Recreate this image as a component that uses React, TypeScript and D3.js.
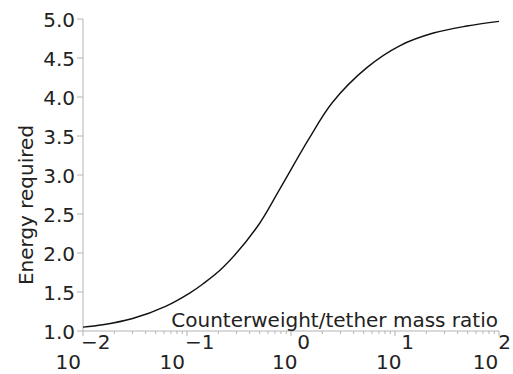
import React from 'react';
import * as d3 from 'd3';

// counterweight/tether mass ratio
const ratios = [0.01, 0.0155, 0.03, 0.063, 0.107, 0.141, 0.22, 0.47, 0.78, 1.48, 2.5, 5.4, 11.2, 23.4, 49, 100];
// energy required at each ratio
const energy = [1.05, 1.08, 1.16, 1.32, 1.49, 1.6, 1.81, 2.33, 2.82, 3.46, 3.93, 4.38, 4.66, 4.82, 4.91, 4.97];

const yTicks = [1.0, 1.5, 2.0, 2.5, 3.0, 3.5, 4.0, 4.5, 5.0];
const xExponents = [-2, -1, 0, 1, 2];

const width = 513;
const height = 374;
const axisColor = '#b4b4b4';
const textColor = '#222';
const font = 'DejaVu Sans, sans-serif';
const fontSize = 20;

const App = () => {
    const x = d3.scaleLog().domain([0.01, 100]).range([83, 499]);
    const y = d3.scaleLinear().domain([1, 5]).range([331, 19]);

    const line = d3.line<number>()
        .x((_, i) => x(ratios[i]))
        .y((d) => y(d))
        .curve(d3.curveCatmullRom.alpha(0.5));

    // minor ticks at 2..9 of every decade
    const minor: number[] = [];
    for (let e = -2; e < 2; e++) {
        for (let m = 2; m <= 9; m++) minor.push(m * Math.pow(10, e));
    }

    return (
        <svg width={width} height={height}
            style={{ position: 'absolute', left: 0, top: 0, background: '#fff' }}
            fontFamily={font}>
            {/* y axis */}
            <line x1={83} x2={83} y1={y(5)} y2={y(1)} stroke={axisColor} strokeWidth={1} />
            {yTicks.map((t) => (
                <g key={t}>
                    <line x1={77} x2={83} y1={y(t)} y2={y(t)} stroke={axisColor} />
                    <text x={75} y={y(t) + 8} textAnchor="end" fontSize={fontSize} fill={textColor}>
                        {t.toFixed(1)}
                    </text>
                </g>
            ))}
            <text transform={`translate(33, 205) rotate(-90)`} textAnchor="middle"
                fontSize={fontSize} fill={textColor}>Energy required</text>

            {/* x axis */}
            <line x1={x(0.01)} x2={x(100)} y1={331} y2={331} stroke={axisColor} />
            {minor.map((m) => (
                <line key={m} x1={x(m)} x2={x(m)} y1={331} y2={334} stroke={axisColor} />
            ))}
            {xExponents.map((e, i) => {
                const last = i === xExponents.length - 1;
                return (
                    <g key={e}>
                        <line x1={x(Math.pow(10, e))} x2={x(Math.pow(10, e))} y1={331} y2={336} stroke={axisColor} />
                        <text x={last ? 511 : x(Math.pow(10, e))} y={369}
                            textAnchor={last ? 'end' : 'middle'} fontSize={fontSize} fill={textColor}>
                            10<tspan dy={-20}>{e < 0 ? '\u2212' + Math.abs(e) : e}</tspan>
                        </text>
                    </g>
                );
            })}
            <text x={498} y={327} textAnchor="end" fontSize={fontSize} fill={textColor}>
                Counterweight/tether mass ratio
            </text>

            <path d={line(energy) || ''} fill="none" stroke="#111" strokeWidth={1.4} />
        </svg>
    );
};

export default App;
